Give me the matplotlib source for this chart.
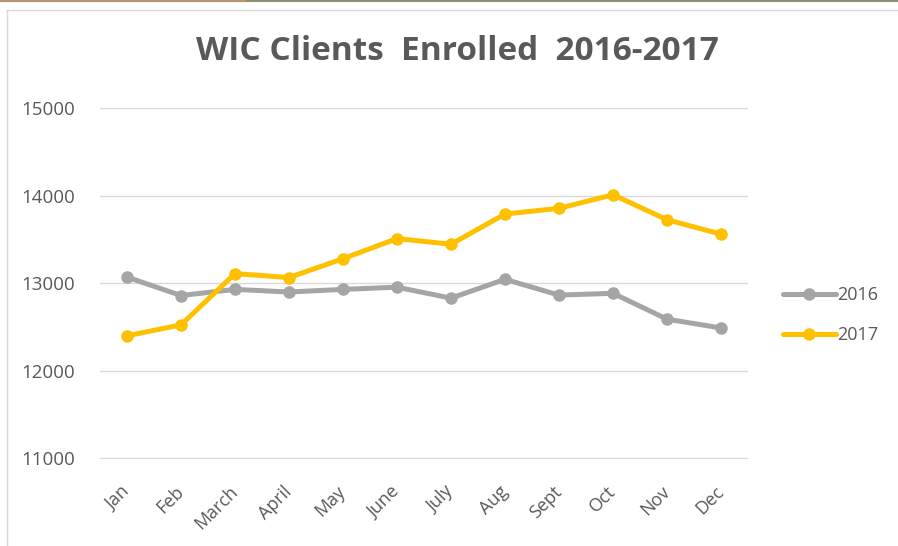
import matplotlib.pyplot as plt
from matplotlib.lines import Line2D

months = ['Jan', 'Feb', 'March', 'April', 'May', 'June', 'July', 'Aug', 'Sept', 'Oct', 'Nov', 'Dec']
clients_2016 = [13070, 12860, 12930, 12900, 12930, 12955, 12830, 13045, 12865, 12885, 12590, 12490]
clients_2017 = [12400, 12525, 13110, 13065, 13280, 13510, 13445, 13790, 13855, 14010, 13725, 13560]
y_ticks = [11000, 12000, 13000, 14000, 15000]

text_color = '#595959'
plt.rcParams['font.family'] = ['Open Sans', 'DejaVu Sans']

fig = plt.figure(figsize=(8.98, 5.46), dpi=100)
ax = fig.add_axes([100 / 898, 1 - 458.5 / 546, 648 / 898, 350.5 / 546])

x = list(range(len(months)))
ax.plot(x, clients_2016, color='#A5A5A5', lw=3.6, marker='o', ms=8, label='2016',
        solid_capstyle='round', zorder=3)
ax.plot(x, clients_2017, color='#FFC000', lw=3.6, marker='o', ms=8, label='2017',
        solid_capstyle='round', zorder=3)

ax.set_xlim(-0.5, len(months) - 0.5)
ax.set_ylim(11000, 15000)
ax.set_yticks(y_ticks)
ax.set_yticklabels([str(v) for v in y_ticks], fontsize=13.5, color=text_color)
ax.set_xticks(x)
ax.set_xticklabels(months, fontsize=13, color=text_color, rotation=45,
                   ha='right', va='center', rotation_mode='anchor')
ax.tick_params(axis='both', length=0)
ax.tick_params(axis='y', pad=18)
ax.tick_params(axis='x', pad=22)
ax.grid(axis='y', color='#D9D9D9', lw=1)
ax.set_axisbelow(True)
for s in ax.spines.values():
    s.set_visible(False)

fig.text(0.509, 0.905, 'WIC Clients  Enrolled  2016-2017', ha='center', va='center',
         fontsize=24, fontweight='bold', color=text_color)

ax.legend(loc='center left', bbox_to_anchor=(767 / 898, 1 - 315 / 546),
          bbox_transform=fig.transFigure, frameon=False, fontsize=13,
          handlelength=2.9, handletextpad=0.1, labelspacing=1.2,
          labelcolor=text_color)

# frame edges of the original screenshot
fig.add_artist(Line2D([0, 1], [1 - 0.5 / 546, 1 - 0.5 / 546], color='#8f8e74', lw=1.5))
fig.add_artist(Line2D([0, 245 / 898], [1 - 0.5 / 546, 1 - 0.5 / 546], color='#b9976b', lw=1.5))
fig.add_artist(Line2D([6.5 / 898, 1], [1 - 9.5 / 546, 1 - 9.5 / 546], color='#D9D9D9', lw=1))
fig.add_artist(Line2D([6.5 / 898, 6.5 / 898], [0, 1 - 9.5 / 546], color='#D9D9D9', lw=1))

fig.savefig('out.png', dpi=100, facecolor='white')
